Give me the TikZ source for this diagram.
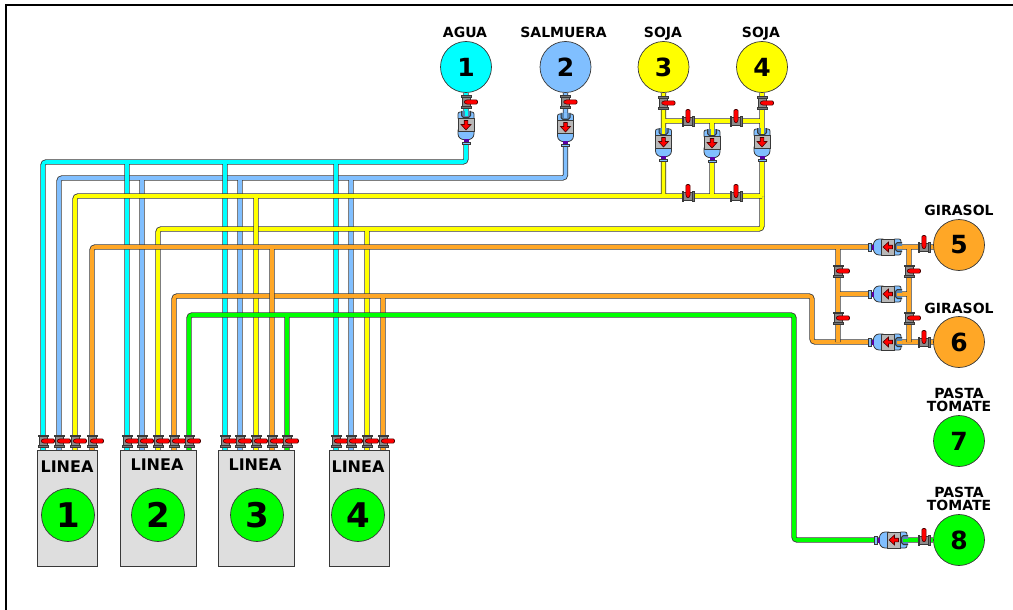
\documentclass[tikz,border=0pt]{standalone}
\usepackage{fontspec}
\setmainfont{DejaVu Sans}
\usetikzlibrary{calc}
\pgfdeclarelayer{pipes}
\pgfsetlayers{pipes,main}

\definecolor{aguac}{HTML}{00FFFF}
\definecolor{salmc}{HTML}{80BFFF}
\definecolor{sojac}{HTML}{FFFF00}
\definecolor{girac}{HTML}{FFA726}
\definecolor{pastac}{HTML}{00FF00}
\definecolor{edgec}{HTML}{383838}

\tikzset{
  pipeedge/.style={line width=5.2pt,draw=edgec,rounded corners=3pt},
  pipefill/.style={line width=3.6pt,draw=#1,rounded corners=3pt},
  tank/.style={circle,draw=edgec,line width=.7pt,fill=#1,minimum size=51pt,inner sep=0pt,font=\fontsize{25}{25}\selectfont\bfseries},
  tanklabel/.style={inner sep=0pt,align=center,font=\fontsize{14}{13}\selectfont\bfseries},
  linebox/.style={rectangle,draw=edgec,line width=1pt,fill=black!13,minimum height=116pt,inner sep=0pt},
  linetank/.style={circle,draw=edgec,line width=.7pt,fill=pastac,minimum size=53pt,inner sep=0pt,font=\fontsize{34}{34}\selectfont\bfseries},
  linelabel/.style={inner sep=0pt,font=\fontsize{16}{16}\selectfont\bfseries},
  valve/.pic={
    \coordinate (-c) at (0,0);
    \coordinate (-b) at (0,10);
    \draw[draw=edgec,fill=black!45,line width=.7pt] (-4,-5) rectangle (4,5);
    \draw[draw=edgec,fill=black!55,line width=.6pt] (-5,-6.2) rectangle (5,-4.6);
    \draw[draw=edgec,fill=black!55,line width=.6pt] (-5,4.6) rectangle (5,6.2);
    \draw[draw=red!30!black,fill=red,line width=.6pt,rounded corners=1.2pt] (0,-2.1) -- (11.5,-2.1) -- (11.5,2.1) -- (0,2.1) -- (-2.5,0) -- cycle;
  },
  filter/.pic={
    \coordinate (-in) at (0,-10);
    \coordinate (-out) at (0,18);
    \draw[draw=edgec,fill=salmc,line width=.8pt,rounded corners=2pt] (-8,-5) -- (-8,-13) -- (8,-13) -- (8,-5) -- cycle;
    \draw[draw=edgec,fill=salmc,line width=.8pt] (-8,5) -- (-8,9) .. controls (-8,13) and (-4,14.5) .. (-3,14.5) -- (3,14.5) .. controls (4,14.5) and (8,13) .. (8,9) -- (8,5) -- cycle;
    \draw[draw=edgec,fill=black!28,line width=.8pt] (-8,-6.5) rectangle (8,6.5);
    \draw[draw=edgec,line width=1pt,fill=salmc!70!black] (-4.5,-14) -- (-4.5,-9.5) .. controls (-4.5,-6.5) and (4.5,-6.5) .. (4.5,-9.5) -- (4.5,-14);
    \draw[line width=3pt,draw=#1] (0,-14) -- (0,-8.5);
    \fill[violet!70!blue] (-2.5,14) rectangle (2.5,17);
    \draw[draw=edgec,fill=salmc,line width=.6pt] (-4,17) rectangle (4,19.5);
    \draw[draw=red!30!black,fill=red,line width=.6pt] (-1.8,-4.5) -- (1.8,-4.5) -- (1.8,-.5) -- (5,-.5) -- (0,5) -- (-5,-.5) -- (-1.8,-.5) -- cycle;
  },
}

\newcommand{\pipeline}[2]{\draw[pipeedge] #2; \draw[pipefill=#1] #2;}

\begin{document}
\begin{tikzpicture}[x=1pt,y=-1pt]
\useasboundingbox (0,0) rectangle (1013,610);
\draw[line width=2pt] (1013,5) -- (6,5) -- (6,610);

% depositos
\node[tank=aguac] (t1) at (466,67) {1};
\node[tank=salmc] (t2) at (565.5,67) {2};
\node[tank=sojac] (t3) at (663.5,67) {3};
\node[tank=sojac] (t4) at (762,67) {4};
\node[tank=girac] (t5) at (959,245) {5};
\node[tank=girac] (t6) at (959,342) {6};
\node[tank=pastac] (t7) at (959,441) {7};
\node[tank=pastac] (t8) at (959,540) {8};

\node[tanklabel] (n1) at (465,32) {AGUA};
\node[tanklabel] (n2) at (563.5,32) {SALMUERA};
\node[tanklabel] (n3) at (663,33.5) {SOJA};
\node[tanklabel] (n4) at (761,33.5) {SOJA};
\node[tanklabel] (n5) at (959,210) {GIRASOL};
\node[tanklabel] (n6) at (959,308) {GIRASOL};
\node[tanklabel] (n7) at (959,399.5) {PASTA\\TOMATE};
\node[tanklabel] (n8) at (959,498.5) {PASTA\\TOMATE};

% lineas
\foreach \n/\x/\w/\tx/\lx/\ly/\d in {1/67/60/68/67/467/1,2/158/76/158/157/465/2,3/256/76/257/255/465/3,4/359/60/358/358/467/4}{
  \node[linebox,minimum width=\w pt] (line\n) at (\x,508) {};
  \node[linelabel] (title\n) at (\lx,\ly) {LINEA};
  \node[linetank] (num\n) at (\tx,515) {\d};
}

% valvulas de las lineas
\foreach \v/\x in {l1a/43,l1b/59,l1c/75,l1d/92,l2a/127,l2b/142,l2c/158,l2d/174,l2e/189,l3a/225,l3b/240,l3c/256,l3d/272,l3e/287,l4a/336,l4b/351,l4c/367,l4d/383}
  \pic (\v) at (\x,441) {valve};

% valvulas de los depositos
\pic (v1) at (466,102) {valve};
\pic (v2) at (565.5,102) {valve};
\pic (v3) at (663.5,103) {valve};
\pic (v4) at (762,103) {valve};
\pic[rotate=90] (v5) at (924,247) {valve};
\pic[rotate=90] (v6) at (924,342) {valve};
\pic[rotate=90] (v8) at (924,540) {valve};

% valvulas de cruce
\pic[rotate=90] (s1) at (688,121) {valve};
\pic[rotate=90] (s2) at (736,121) {valve};
\pic[rotate=90] (s3) at (688,196) {valve};
\pic[rotate=90] (s4) at (736,196) {valve};
\pic (g1) at (838,271) {valve};
\pic (g2) at (838,318) {valve};
\pic (g3) at (909,271) {valve};
\pic (g4) at (909,318) {valve};

% filtros
\pic (f1) at (466,125) {filter=aguac};
\pic (f2) at (565.5,127) {filter=salmc};
\pic (f3) at (663.5,142) {filter=sojac};
\pic (fm) at (712,143) {filter=sojac};
\pic (f4) at (762,142) {filter=sojac};
\pic[rotate=-90] (f5) at (888,247) {filter=girac};
\pic[rotate=-90] (fg) at (888,294) {filter=girac};
\pic[rotate=-90] (f6) at (888,342) {filter=girac};
\pic[rotate=-90] (f8) at (894,540) {filter=pastac};

\coordinate (salbus) at (59,178);
\coordinate (agbus) at (43,162);
\coordinate (sabus) at (158,229);
\coordinate (sobus) at (75,196);
\coordinate (gbbus) at (174,296);
\coordinate (gabus) at (92,247);
\coordinate (pabus) at (189,315);
\coordinate (gbdrop) at (812,342);
\coordinate (padrop) at (794,540);

\begin{pgfonlayer}{pipes}
\pipeline{salmc}{(t2) -- (f2-in) (f2-out) |- (salbus) -- (l1b-b) (l2b-b) -- (l2b-b |- salbus) (l3b-b) -- (l3b-b |- salbus) (l4b-b) -- (l4b-b |- salbus)}
\pipeline{aguac}{(t1) -- (f1-in) (f1-out) |- (agbus) -- (l1a-b) (l2a-b) -- (l2a-b |- agbus) (l3a-b) -- (l3a-b |- agbus) (l4a-b) -- (l4a-b |- agbus)}
\pipeline{sojac}{(f4-out |- sobus) |- (sabus) -- (l2c-b) (l4c-b) -- (l4c-b |- sabus)}
\pipeline{sojac}{(t3) -- (f3-in) (t4) -- (f4-in) (f3-in |- s1-c) -- (f4-in |- s1-c) (fm-in |- s1-c) -- (fm-in) (l1c-b) -- (sobus) -- (f4-out |- sobus) (l3c-b) -- (l3c-b |- sobus) (f3-out) -- (f3-out |- sobus) (fm-out) -- (fm-out |- sobus) (f4-out) -- (f4-out |- sobus)}
\pipeline{girac}{(l2d-b) -- (gbbus) -| (gbdrop) -- (f6-in -| t6) (l4d-b) -- (l4d-b |- gbbus)}
\pipeline{girac}{(l1d-b) -- (gabus) -- (gabus -| t5) (l3d-b) -- (l3d-b |- gabus) (g1-c |- gabus) -- (g1-c |- gbdrop) (g3-c |- gabus) -- (g3-c |- gbdrop) (g1-c |- fg-out) -- (fg-out) (fg-in) -- (g3-c |- fg-in)}
\pipeline{pastac}{(l2e-b) -- (pabus) -| (padrop) -- (t8) (l3e-b) -- (l3e-b |- pabus)}
\end{pgfonlayer}
\end{tikzpicture}
\end{document}
